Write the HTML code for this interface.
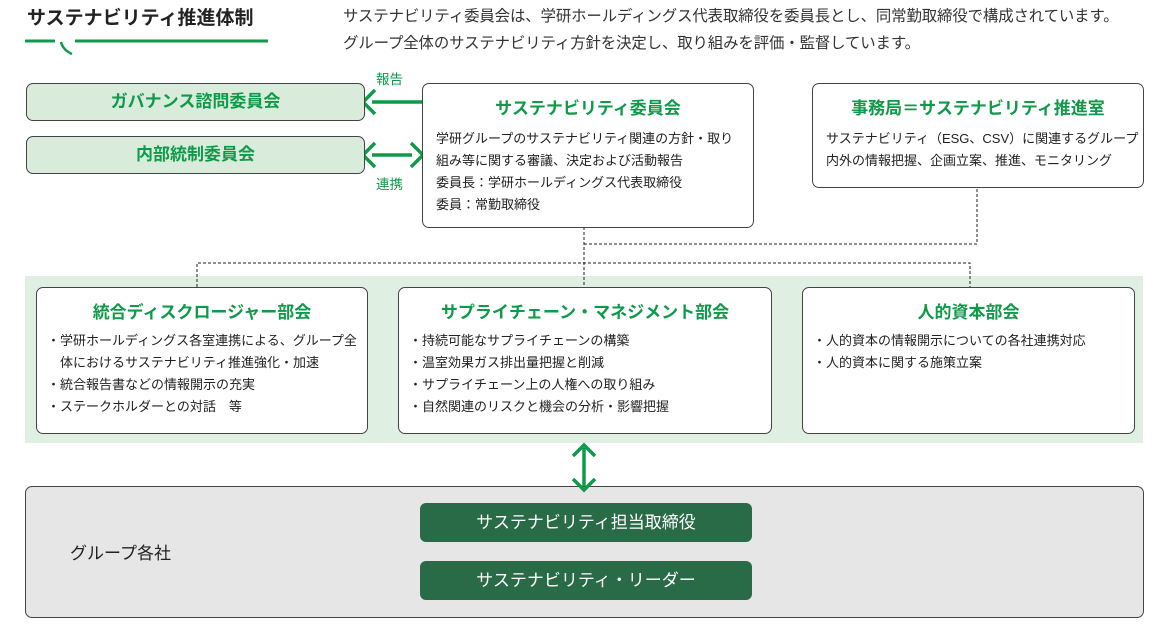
<!DOCTYPE html>
<html><head><meta charset="utf-8"><style>
*{margin:0;padding:0;box-sizing:border-box}
body{width:1165px;height:632px;background:#fff;position:relative;overflow:hidden;font-family:"Liberation Sans","Noto Sans CJK JP",sans-serif;color:#222}
.a{position:absolute}
.box{position:absolute;border:1.3px solid #444;border-radius:7px;background:#fff}
.g{color:#0f9a4a;font-weight:bold}
.t{font-size:13px;line-height:22px;white-space:nowrap;color:#222}
.ctr{text-align:center}
.btn{position:absolute;background:#286b46;border-radius:6px;color:#fff;font-size:17px;text-align:center;line-height:39px}
</style></head><body>
<div class="a" style="left:27px;top:3px;font-size:19px;font-weight:bold;color:#222">サステナビリティ推進体制</div>
<svg class="a" style="left:0;top:0" width="1165" height="632">
<line x1="25" y1="41" x2="55" y2="41" stroke="#0f9a4a" stroke-width="3"/>
<line x1="75" y1="41" x2="268" y2="41" stroke="#0f9a4a" stroke-width="3"/>
<path d="M61 42 Q63 50 72 54" stroke="#0f9a4a" stroke-width="2.5" fill="none"/>
<line x1="372" y1="102" x2="428" y2="102" stroke="#0f9a4a" stroke-width="3.5"/>
<polyline points="375,90 363,102 375,114" stroke="#0f9a4a" stroke-width="3.5" fill="none"/>
<line x1="372" y1="155" x2="412" y2="155" stroke="#0f9a4a" stroke-width="3.5"/>
<polyline points="375,143 363,155 375,167" stroke="#0f9a4a" stroke-width="3.5" fill="none"/>
<polyline points="411,143 423,155 411,167" stroke="#0f9a4a" stroke-width="3.5" fill="none"/>
<rect x="25" y="276" width="1118" height="167" fill="#dfefe2"/>
<g stroke="#222" stroke-width="1" stroke-dasharray="3,2" fill="none">
<line x1="584" y1="227" x2="584" y2="287"/>
<polyline points="584,244 977,244 977,187"/>
<polyline points="197,287 197,263 970,263 970,287"/>
</g>
</svg>
<div class="a" style="left:343px;top:3px;font-size:15.4px;line-height:27px;color:#333;white-space:nowrap;letter-spacing:-0.1px">サステナビリティ委員会は、学研ホールディングス代表取締役を委員長とし、同常勤取締役で構成されています。<br>グループ全体のサステナビリティ方針を決定し、取り組みを評価・監督しています。</div>

<div class="box g ctr" style="left:26px;top:83px;width:339px;height:38px;background:#d9ecdc;font-size:17px;line-height:36px">ガバナンス諮問委員会</div>
<div class="box g ctr" style="left:26px;top:136px;width:339px;height:38px;background:#d9ecdc;font-size:17px;line-height:36px">内部統制委員会</div>
<div class="a" style="left:376px;top:68px;font-size:13.5px;color:#0f9a4a">報告</div>
<div class="a" style="left:376px;top:173px;font-size:13.5px;color:#0f9a4a">連携</div>

<div class="box" style="left:422px;top:83px;width:332px;height:145px">
<div class="g ctr" style="font-size:17px;margin-top:10px">サステナビリティ委員会</div>
<div class="t" style="margin:9px 0 0 13px">学研グループのサステナビリティ関連の方針・取り<br>組み等に関する審議、決定および活動報告<br>委員長：学研ホールディングス代表取締役<br>委員：常勤取締役</div>
</div>
<div class="box" style="left:812px;top:83px;width:332px;height:105px">
<div class="g ctr" style="font-size:17px;margin-top:10px">事務局＝サステナビリティ推進室</div>
<div class="t" style="margin:9px 0 0 13px">サステナビリティ（ESG、CSV）に関連するグループ<br>内外の情報把握、企画立案、推進、モニタリング</div>
</div>

<div class="box" style="left:36px;top:287px;width:332px;height:147px">
<div class="g ctr" style="font-size:17px;margin-top:10px">統合ディスクロージャー部会</div>
<div class="t" style="margin:7px 0 0 10px">・学研ホールディングス各室連携による、グループ全<br>　体におけるサステナビリティ推進強化・加速<br>・統合報告書などの情報開示の充実<br>・ステークホルダーとの対話　等</div>
</div>
<div class="box" style="left:398px;top:287px;width:374px;height:147px">
<div class="g ctr" style="font-size:17px;margin-top:10px">サプライチェーン・マネジメント部会</div>
<div class="t" style="margin:7px 0 0 10px">・持続可能なサプライチェーンの構築<br>・温室効果ガス排出量把握と削減<br>・サプライチェーン上の人権への取り組み<br>・自然関連のリスクと機会の分析・影響把握</div>
</div>
<div class="box" style="left:802px;top:287px;width:333px;height:147px">
<div class="g ctr" style="font-size:17px;margin-top:10px">人的資本部会</div>
<div class="t" style="margin:7px 0 0 10px">・人的資本の情報開示についての各社連携対応<br>・人的資本に関する施策立案</div>
</div>

<div class="box" style="left:25px;top:486px;width:1119px;height:132px;background:#e6e6e7"></div>
<svg class="a" style="left:0;top:0" width="1165" height="632">
<line x1="584" y1="448" x2="584" y2="486" stroke="#0f9a4a" stroke-width="3.5"/>
<polyline points="573,456 584,445 595,456" stroke="#0f9a4a" stroke-width="3.5" fill="none"/>
<polyline points="573,479 584,490 595,479" stroke="#0f9a4a" stroke-width="3.5" fill="none"/>
</svg>
<div class="a" style="left:70px;top:539px;font-size:17px;color:#222">グループ各社</div>
<div class="btn" style="left:420px;top:503px;width:332px;height:39px">サステナビリティ担当取締役</div>
<div class="btn" style="left:420px;top:561px;width:332px;height:39px">サステナビリティ・リーダー</div>
</body></html>
